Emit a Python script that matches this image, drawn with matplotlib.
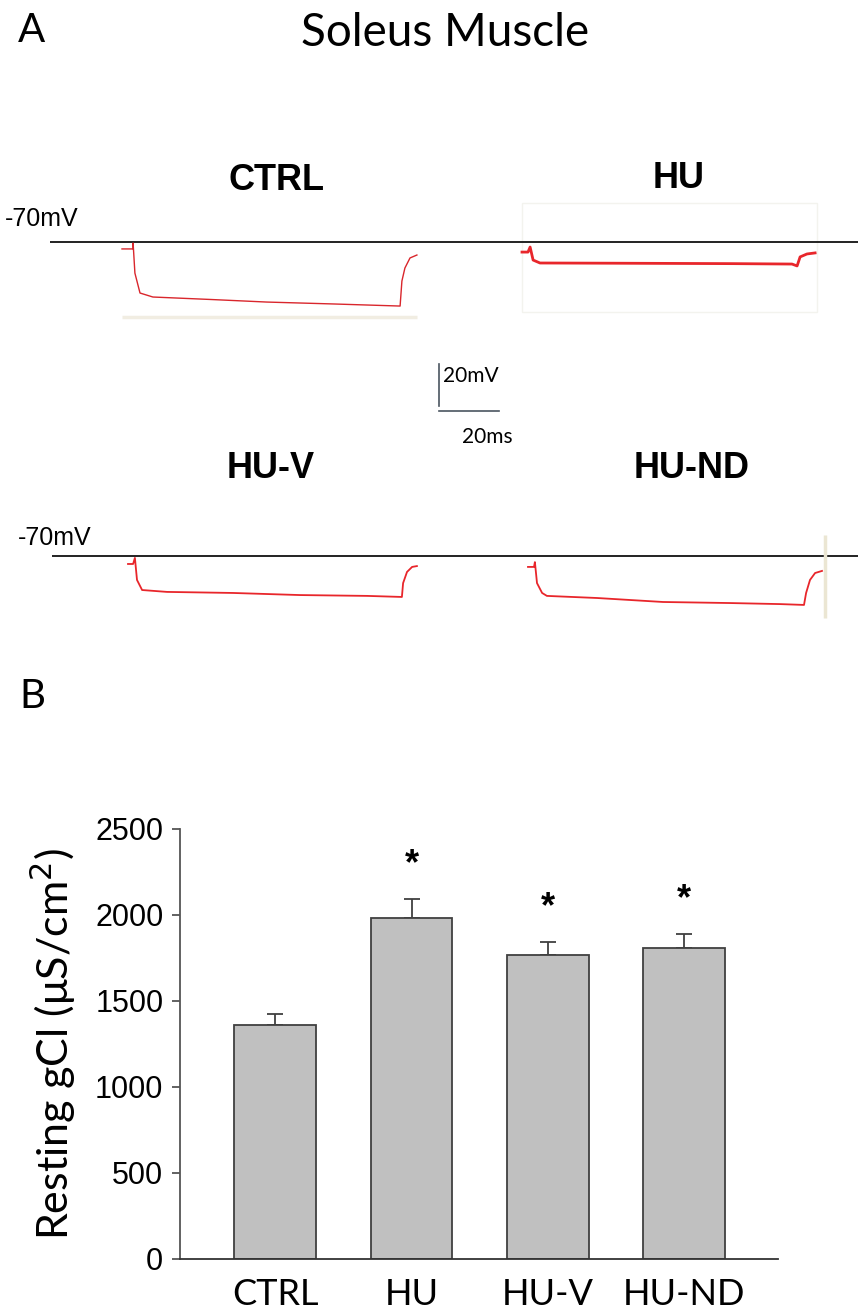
import matplotlib
matplotlib.use("Agg")
import matplotlib.pyplot as plt
from matplotlib.patches import Rectangle

# ---------------- data ----------------
# Panel A traces: time (ms, from trace start) and membrane potential (mV)
ctrl_t = [0, 3.7, 3.7, 4.3, 6.0, 10.3, 30.0, 48.3, 70.3, 92.7, 93.3, 94.3, 96.0, 98.3]
ctrl_v = [-73.3, -73.3, -70.5, -84.8, -94.3, -96.2, -97.4, -98.6, -99.5, -100.5, -88.6, -82.4, -77.6, -76.2]

hu_t = [0, 2.0, 2.7, 3.7, 6.0, 30.0, 50.0, 70.0, 90.0, 91.7, 92.7, 95.0, 97.7]
hu_v = [-74.8, -74.8, -72.4, -78.6, -80.0, -80.1, -80.2, -80.3, -80.5, -81.4, -77.1, -75.7, -75.2]

huv_t = [0, 1.7, 2.3, 3.0, 4.7, 13.0, 35.0, 57.3, 79.7, 91.3, 91.7, 93.0, 94.7, 96.3]
huv_v = [-73.8, -73.8, -70.9, -81.4, -86.2, -87.1, -87.6, -88.6, -89.0, -89.5, -82.9, -77.6, -75.2, -74.8]

hund_t = [0, 2.0, 2.3, 3.0, 4.7, 6.3, 23.0, 45.0, 67.3, 84.0, 92.0, 92.7, 94.0, 95.7, 98.0]
hund_v = [-75.2, -75.2, -72.9, -82.9, -87.6, -89.0, -90.0, -91.9, -92.4, -92.9, -93.3, -87.6, -81.4, -78.1, -77.1]

rest_mv = -70
scale_mv = 20
scale_ms = 20

# Panel B
groups = ["CTRL", "HU", "HU-V", "HU-ND"]
gcl_mean = [1360, 1983, 1767, 1808]
gcl_sem = [64, 110, 76, 82]
signif = ["", "*", "*", "*"]

# ---------------- figure ----------------
W, H = 858, 1310
fig = plt.figure(figsize=(W / 100, H / 100), dpi=100)


def px_axes(x0, y0, x1, y1):
    return fig.add_axes([x0 / W, 1 - y1 / H, (x1 - x0) / W, (y1 - y0) / H])


def ftext(x, y, s, **kw):
    fig.text(x / W, 1 - y / H, s, **kw)


PX_MS = 3.0   # pixels per ms
PX_MV = 2.1   # pixels per mV
RED = "#e8262b"

ftext(18, 31, "A", fontsize=29, family="Lato", va="center", ha="left")
ftext(445, 33, "Soleus Muscle", fontsize=33, family="Lato", ha="center", va="center")
ftext(19, 696, "B", fontsize=29, family="Lato", va="center", ha="left")

# ---- top row axes (includes scale bar) ----
top_base_px = 242
ax1 = px_axes(0, 190, W, 450)
ax1.set_xlim(0, W / PX_MS)
ax1.set_ylim(rest_mv - (450 - top_base_px) / PX_MV, rest_mv - (190 - top_base_px) / PX_MV)
ax1.axis("off")
ax1.hlines(rest_mv, 50 / PX_MS, W / PX_MS, color="#222222", lw=1.4)

ctrl_off = 122 / PX_MS
hu_off = 522 / PX_MS
# faint frame artifacts of the original recordings
ax1.hlines(rest_mv - (317 - top_base_px) / PX_MV, ctrl_off, ctrl_off + 98.3, color="#f1ede2", lw=2.5)
ax1.add_patch(Rectangle((hu_off, rest_mv - (312 - top_base_px) / PX_MV), (817 - 522) / PX_MS,
                        (312 - 203) / PX_MV, fill=False, edgecolor="#f3f3ee", lw=1.0))
ax1.plot([ctrl_off + t for t in ctrl_t], ctrl_v, color="#d9262c", lw=1.0)
ax1.plot([hu_off + t for t in hu_t], hu_v, color=RED, lw=2.0)

# scale bar
sb_x = 439 / PX_MS
sb_top = rest_mv - (364 - top_base_px) / PX_MV
ax1.plot([sb_x, sb_x], [sb_top, sb_top - scale_mv], color="#4a5560", lw=1.2)
sb_y = rest_mv - (411 - top_base_px) / PX_MV
ax1.plot([sb_x, sb_x + scale_ms], [sb_y, sb_y], color="#4a5560", lw=1.2)
ftext(443, 376, f"{scale_mv}mV", fontsize=15, family="Lato", va="center", ha="left")
ftext(462, 437, f"{scale_ms}ms", fontsize=15, family="Lato", va="center", ha="left")

# ---- bottom row axes ----
bot_base_px = 556
ax2 = px_axes(0, 500, W, 640)
ax2.set_xlim(0, W / PX_MS)
ax2.set_ylim(rest_mv - (640 - bot_base_px) / PX_MV, rest_mv - (500 - bot_base_px) / PX_MV)
ax2.axis("off")
ax2.hlines(rest_mv, 52 / PX_MS, W / PX_MS, color="#222222", lw=1.4)
huv_off = 128 / PX_MS
hund_off = 528 / PX_MS
ax2.vlines(825 / PX_MS, rest_mv - (618 - bot_base_px) / PX_MV, rest_mv - (535 - bot_base_px) / PX_MV,
           color="#ebe6d3", lw=2.5)
ax2.plot([huv_off + t for t in huv_t], huv_v, color=RED, lw=1.3)
ax2.plot([hund_off + t for t in hund_t], hund_v, color=RED, lw=1.3)

# trace labels
for (x, y, s) in [(277, 180, "CTRL"), (679, 178, "HU"), (271, 469, "HU-V"), (692, 469, "HU-ND")]:
    ftext(x, y, s, fontsize=26, fontweight="bold", family="Liberation Sans", ha="center", va="center")
ftext(5, 219, "-70mV", fontsize=18, family="Liberation Sans", ha="left", va="center")
ftext(18, 538, "-70mV", fontsize=18, family="Liberation Sans", ha="left", va="center")

# ---------------- Panel B ----------------
ax3 = px_axes(180, 829, 778, 1259)
x = list(range(len(groups)))
ax3.bar(x, gcl_mean, width=0.6, color="#c0c0c0", edgecolor="#404040", linewidth=1.3, zorder=2)
ax3.errorbar(x, gcl_mean, yerr=[[0] * len(groups), gcl_sem], fmt="none", ecolor="#404040",
             elinewidth=1.3, capsize=6, capthick=1.3, zorder=1)
for xi, m, e, s in zip(x, gcl_mean, gcl_sem, signif):
    if s:
        ax3.text(xi, m + e + 200, s, ha="center", va="center", fontsize=26,
                 family="Liberation Sans", fontweight="bold")
ax3.set_xlim(-0.70, 3.69)
ax3.set_ylim(0, 2500)
ax3.set_yticks([0, 500, 1000, 1500, 2000, 2500])
ax3.set_xticks(x)
ax3.set_xticklabels(groups, family="Lato", fontsize=26)
for lab in ax3.get_yticklabels():
    lab.set_family("Liberation Sans")
    lab.set_fontsize(22)
ax3.tick_params(axis="y", direction="out", length=6, width=1.3, color="#555555", pad=6)
ax3.tick_params(axis="x", length=0, pad=14)
for sp in ["top", "right"]:
    ax3.spines[sp].set_visible(False)
ax3.spines["left"].set_color("#555555")
ax3.spines["bottom"].set_color("#333333")
ax3.spines["left"].set_linewidth(1.3)
ax3.spines["bottom"].set_linewidth(1.3)
ax3.set_ylabel("Resting gCl (μS/cm$^2$)", family="Lato", fontsize=31, labelpad=12)

fig.savefig("out.png", dpi=100)
